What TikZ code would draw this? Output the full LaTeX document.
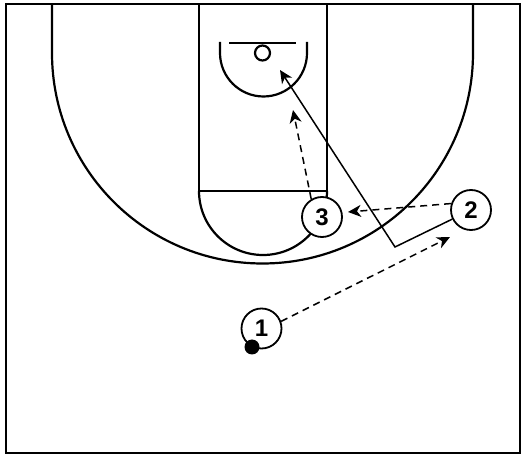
\documentclass[tikz,border=0pt]{standalone}
\usepackage{fontspec}
\setmainfont{Liberation Sans}
\usetikzlibrary{arrows.meta}
\pgfdeclarelayer{bg}
\pgfsetlayers{bg,main}
\tikzset{
    court/.style={line width=2.2pt},
    player/.style={circle, draw, fill=white, line width=1.8pt, minimum size=40pt,
    	inner sep=0pt, font=\bfseries\fontsize{24}{24}\selectfont},
    ball/.style={circle, fill, minimum size=15pt, inner sep=0pt},
    pass/.style={line width=1.5pt, dash pattern=on 7pt off 5pt,
    	-{Stealth[length=13pt, width=12pt, inset=4pt]}},
    cut/.style={line width=1.5pt, -{Stealth[length=13pt, width=12pt, inset=4pt]}}
}

\begin{document}
\begin{tikzpicture}[x=1pt, y=1pt]
  \useasboundingbox (0,0) rectangle (525,458);

  \begin{pgfonlayer}{bg}
	  \draw[court] (6,5) rectangle (520,454);
	  \draw[court] (52,454) -- (52,405) arc[start angle=180, end angle=360, radius=210.5] -- (473,454);
	  \draw[court] (199,454) rectangle (327,267);
	  \draw[court] (199,267) arc[start angle=180, end angle=360, radius=64];
	  \draw[court] (229,415) -- (296,415);
	  \draw[court] (262.5,405) circle (7.5);
	  \draw[court] (220,416) -- (220,405) arc[start angle=180, end angle=360, radius=43.5] -- (307,416);
  \end{pgfonlayer}

  \node (p1) [player] at (261.5, 129.5) {1};
  \node (p2) [player] at (471, 248) {2};
  \node (p3) [player] at (322, 241) {3};
  \node (b1) [ball] at (252, 111) {};

  \coordinate (t1) at (450, 221);
  \coordinate (t2) at (348, 246);
  \coordinate (t3) at (293, 348);
  \coordinate (t4) at (280, 388);
  \coordinate (bend) at (395, 211);

  \draw[pass] (p1.20) -- (t1);
  \draw[pass] (p2.162) -- (t2);
  \draw[pass] (p3.121) -- (t3);
  \draw[cut] (p2) -- (bend) -- (t4);

\end{tikzpicture}
\end{document}
